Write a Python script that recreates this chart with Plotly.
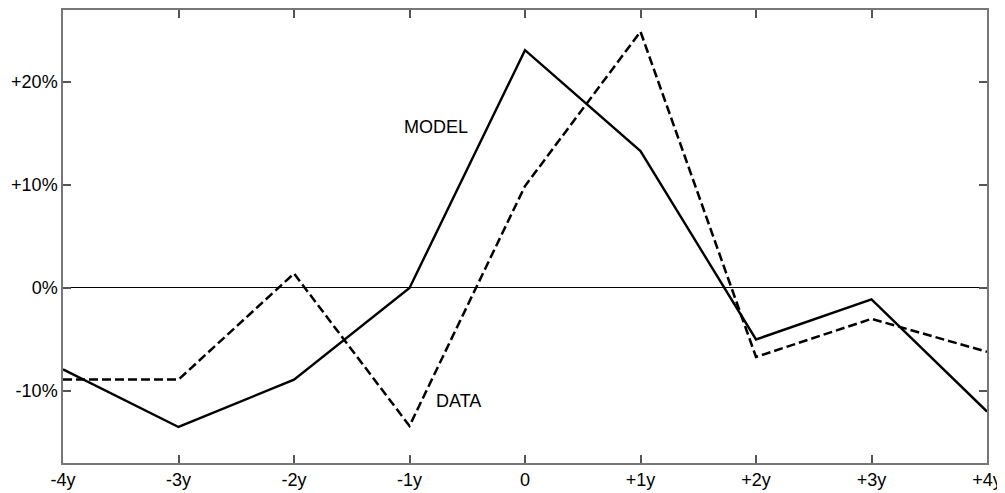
import plotly.graph_objects as go

years = [-4, -3, -2, -1, 0, 1, 2, 3, 4]
year_labels = ['-4y', '-3y', '-2y', '-1y', '0', '+1y', '+2y', '+3y', '+4y']
model = [-7.9, -13.5, -8.9, 0.0, 23.1, 13.3, -5.0, -1.1, -12.0]
data = [-8.9, -8.9, 1.4, -13.4, 9.9, 24.9, -6.7, -3.0, -6.2]
pct_ticks = [-10, 0, 10, 20]
pct_labels = ['-10%', '0%', '+10%', '+20%']

fig = go.Figure()
fig.add_trace(go.Scatter(x=years, y=data, mode='lines', name='DATA',
                         line=dict(color='black', width=2.5, dash='9px,4px')))
fig.add_trace(go.Scatter(x=years, y=model, mode='lines', name='MODEL',
                         line=dict(color='black', width=2.4)))

fig.add_annotation(x=-0.77, y=15.6, text='MODEL', showarrow=False,
                   font=dict(size=18, color='black'))
fig.add_annotation(x=-0.58, y=-11.0, text='DATA', showarrow=False,
                   font=dict(size=18, color='black'))

axis_style = dict(showline=True, linecolor='#777', linewidth=1.5, mirror='ticks',
                  ticks='inside', ticklen=8, tickcolor='#555', tickwidth=1.5,
                  showgrid=False, tickfont=dict(size=18, color='black'))

fig.update_xaxes(range=[-4, 4], tickvals=years, ticktext=year_labels,
                 zeroline=False, **axis_style)
fig.update_yaxes(range=[-17, 27], tickvals=pct_ticks, ticktext=pct_labels,
                 zeroline=True, zerolinecolor='black', zerolinewidth=1, **axis_style)

# page body adds an 8px margin, so the figure is slightly smaller than the window
fig.update_layout(width=997, height=485, showlegend=False,
                  plot_bgcolor='white', paper_bgcolor='white',
                  font=dict(family='Liberation Sans, Arial, sans-serif'),
                  margin=dict(l=55, r=18, t=0, b=30))

fig.write_html("out.html")
